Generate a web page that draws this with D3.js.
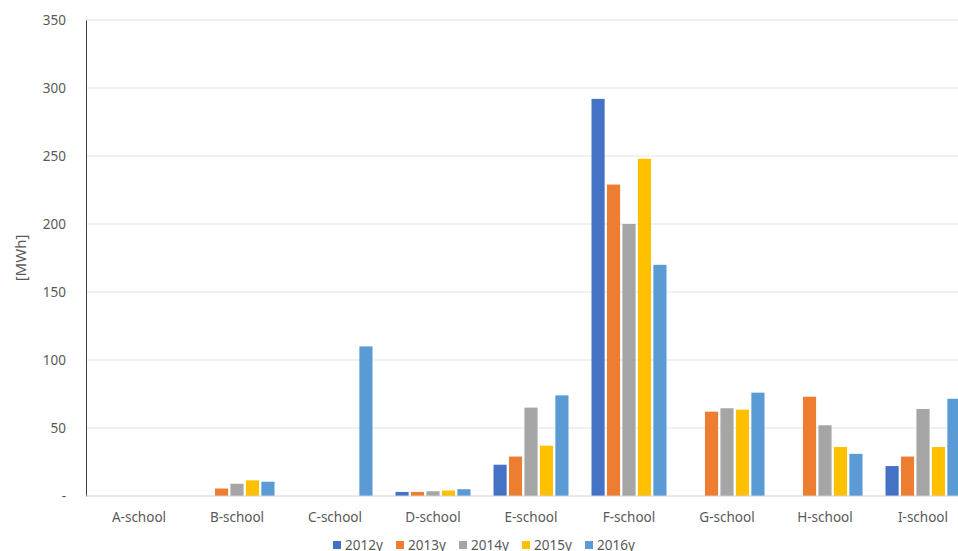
<!DOCTYPE html>
<html>
<head>
<meta charset="utf-8">
<script src="https://cdn.jsdelivr.net/npm/d3@7"></script>
<style>
  body { margin: 0; background: #fff; }
  text { font-family: "Noto Sans", sans-serif; fill: #595959; }
</style>
</head>
<body>
<svg id="chart" width="958" height="551"></svg>
<script>
// chart data
const schools = ["A-school", "B-school", "C-school", "D-school", "E-school", "F-school", "G-school", "H-school", "I-school"];
const years = ["2012y", "2013y", "2014y", "2015y", "2016y"];
const v2012 = [0, 0, 0, 3, 23, 292, 0, 0, 22];
const v2013 = [0, 5.5, 0, 3, 29, 229, 62, 73, 29];
const v2014 = [0, 9, 0, 3.5, 65, 200, 64.5, 52, 64];
const v2015 = [0, 11.5, 0, 4, 37, 248, 63.5, 36, 36];
const v2016 = [0, 10.5, 110, 5, 74, 170, 76, 31, 71.5];
const yTicks = [0, 50, 100, 150, 200, 250, 300, 350];

const series = [v2012, v2013, v2014, v2015, v2016];
const colors = ["#4472C4", "#ED7D31", "#A5A5A5", "#FFC000", "#5B9BD5"];

const svg = d3.select("#chart");
const plotLeft = 86, plotTop = 20, plotBottom = 496;

const x = d3.scaleBand().domain(schools).range([90, 972]);
const xi = d3.scaleBand().domain(years).range([0, 75]).paddingInner(0.15);
const y = d3.scaleLinear().domain([0, 350]).range([plotBottom, plotTop]);

// gridlines
svg.append("g").selectAll("line")
    .data(yTicks.slice(1))
    .enter().append("line")
    .attr("x1", plotLeft).attr("x2", 958)
    .attr("y1", d => y(d)).attr("y2", d => y(d))
    .attr("stroke", "#e3e3e3");

// y axis
const yAxis = svg.append("g")
    .attr("transform", "translate(" + plotLeft + ",0)")
    .call(d3.axisLeft(y).tickValues(yTicks).tickSize(0).tickPadding(20)
        .tickFormat(d => d === 0 ? "-" : d));
yAxis.select(".domain").attr("stroke", "#404040");
yAxis.selectAll("text").style("font-size", "13.5px").attr("fill", "#595959");

// bars
series.forEach((vals, i) => {
    svg.append("g").selectAll("rect")
        .data(vals)
        .enter().append("rect")
        .attr("x", (d, j) => x(schools[j]) + (x.bandwidth() - 75) / 2 + xi(years[i]))
        .attr("width", xi.bandwidth())
        .attr("y", d => y(d))
        .attr("height", d => plotBottom - y(d))
        .attr("fill", colors[i]);
});

// x axis
svg.append("line")
    .attr("x1", plotLeft).attr("x2", 958)
    .attr("y1", plotBottom).attr("y2", plotBottom)
    .attr("stroke", "#d0d0d0");
svg.append("g").selectAll("text")
    .data(schools)
    .enter().append("text")
    .attr("x", d => x(d) + x.bandwidth() / 2)
    .attr("y", 522)
    .attr("text-anchor", "middle")
    .style("font-size", "13.5px")
    .text(d => d);

// y label
svg.append("text")
    .attr("transform", "translate(26,258) rotate(-90)")
    .attr("text-anchor", "middle")
    .style("font-size", "15px")
    .text("[MWh]");

// legend
const lg = svg.append("g").selectAll("g")
    .data(years)
    .enter().append("g")
    .attr("transform", (d, i) => "translate(" + (333 + i * 63) + ",541)");
lg.append("rect").attr("width", 8).attr("height", 8).attr("fill", (d, i) => colors[i]);
lg.append("text").attr("x", 12).attr("y", 9).style("font-size", "13.5px").text(d => d);
</script>
</body>
</html>
